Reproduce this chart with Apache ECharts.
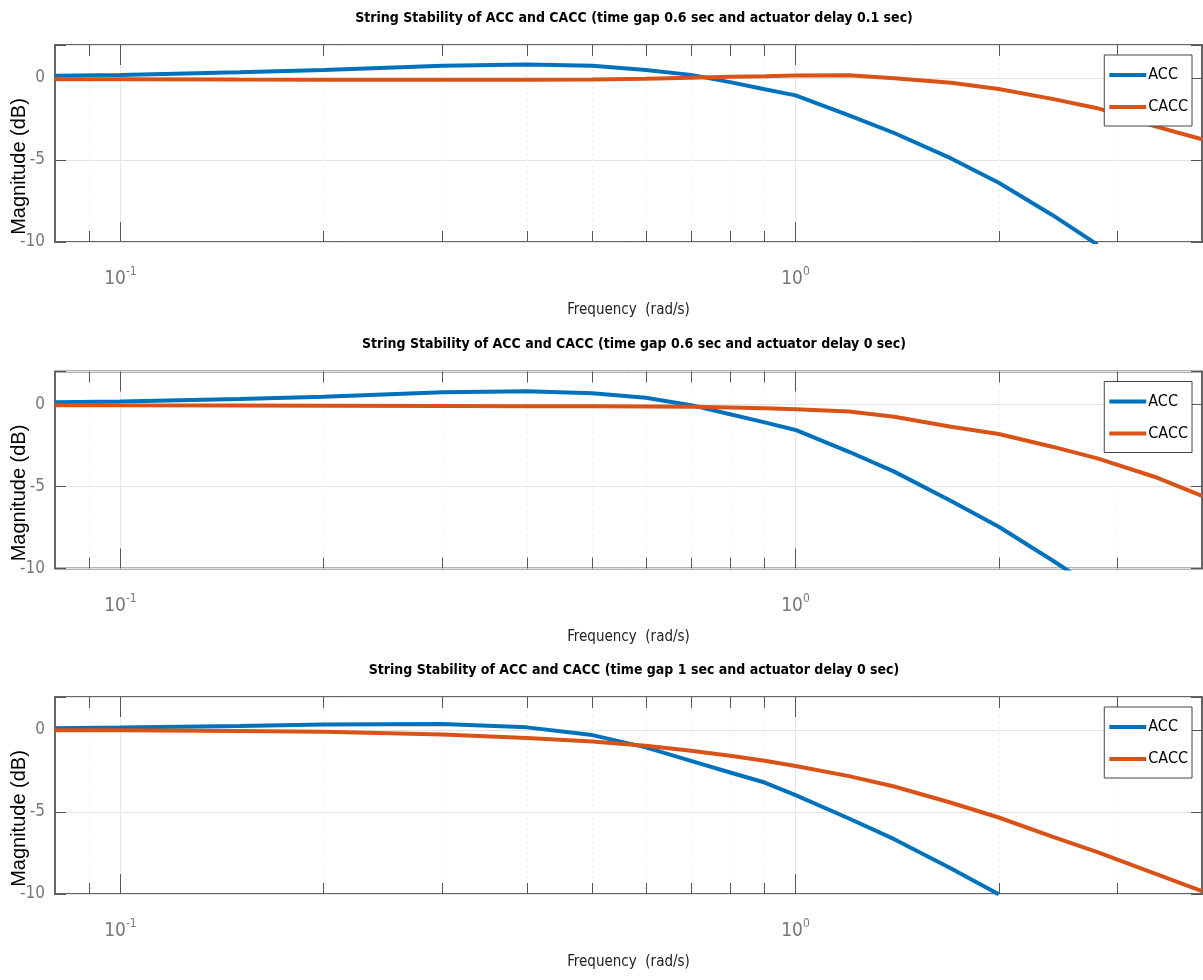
<!DOCTYPE html>
<html>
<head>
<meta charset="utf-8">
<script src="https://cdn.jsdelivr.net/npm/echarts@6/dist/echarts.min.js"></script>
<style>
    html, body { margin: 0; padding: 0; background: #fff; }
    #chart { width: 1203px; height: 980px; }
</style>
</head>
<body>
<div id="chart"></div>
<script>
    // frequency grid (rad/s) shared by the three plots
    const freq = [0.08, 0.1, 0.15, 0.2, 0.3, 0.4, 0.5, 0.6, 0.7, 0.8, 0.9, 1.0, 1.2, 1.4, 1.7, 2.0, 2.4, 2.8, 3.4, 4.0]

    // magnitude (dB); null = off the plot
    const acc1  = [0.12, 0.18, 0.34, 0.48, 0.73, 0.81, 0.73, 0.48, 0.18, -0.26, -0.70, -1.07, -2.28, -3.36, -4.91, -6.39, -8.35, -10.16, null, null]
    const cacc1 = [-0.08, -0.08, -0.10, -0.11, -0.12, -0.12, -0.10, -0.05, 0.00, 0.06, 0.10, 0.14, 0.16, -0.03, -0.30, -0.68, -1.28, -1.85, -2.94, -3.74]

    const acc2  = [0.12, 0.17, 0.32, 0.46, 0.74, 0.80, 0.68, 0.40, -0.05, -0.60, -1.10, -1.56, -2.89, -4.10, -5.89, -7.46, -9.50, -11.30, null, null]
    const cacc2 = [-0.05, -0.06, -0.07, -0.08, -0.10, -0.11, -0.12, -0.13, -0.15, -0.19, -0.24, -0.30, -0.44, -0.76, -1.37, -1.81, -2.58, -3.29, -4.41, -5.57]

    const acc3  = [0.10, 0.14, 0.24, 0.32, 0.35, 0.15, -0.32, -1.07, -1.89, -2.60, -3.21, -3.98, -5.40, -6.66, -8.45, -10.02, null, null, null, null]
    const cacc3 = [-0.02, -0.03, -0.07, -0.12, -0.28, -0.50, -0.71, -0.97, -1.28, -1.58, -1.88, -2.20, -2.82, -3.45, -4.44, -5.34, -6.50, -7.45, -8.74, -9.82]

    const titles = [
        'String Stability of ACC and CACC (time gap 0.6 sec and actuator delay 0.1 sec)',
        'String Stability of ACC and CACC (time gap 0.6 sec and actuator delay 0 sec)',
        'String Stability of ACC and CACC (time gap 1 sec and actuator delay 0 sec)'
    ]
    const panels = [[acc1, cacc1], [acc2, cacc2], [acc3, cacc3]]

    const xMin = 0.08, xMax = 4
    const majorTicks = [0.1, 1]
    const minorTicks = [0.09, 0.2, 0.3, 0.4, 0.5, 0.6, 0.7, 0.8, 0.9, 2, 3]

    const gridTops = [45, 371.5, 697]
    const gridH = 197
    const narrow = "'Liberation Sans Narrow', 'DejaVu Sans Condensed', 'Liberation Sans', sans-serif"
    const blue = '#0072BD', orange = '#D95319'
    const lg = v => Math.log10(v)

    let grid = [], xAxis = [], yAxis = [], series = [], legend = [], title = []

    panels.forEach((p, i) => {
        let top = gridTops[i]
        grid.push({
            left: 55, right: 1, top: top, height: gridH,
            show: true, borderColor: '#666', borderWidth: 2,
            outerBoundsMode: 'none'
        })
        title.push({
            text: titles[i], left: 629, top: top - 39, textAlign: 'center',
            textStyle: {fontFamily: narrow, fontSize: 14, fontWeight: 'bold', color: '#000'}
        })

        let base = {
            type: 'value', gridIndex: i, min: lg(xMin), max: lg(xMax),
            axisLine: {show: false, onZero: false}, axisLabel: {show: false}, splitLine: {show: false}
        }
        // bottom, major ticks + labels
        xAxis.push(Object.assign({}, base, {
            position: 'bottom',
            name: 'Frequency  (rad/s)', nameLocation: 'middle', nameGap: 61, nameMoveOverlap: false,
            nameTextStyle: {fontFamily: narrow, fontSize: 15, color: '#222'},
            axisTick: {inside: true, length: 20, customValues: majorTicks.map(lg), lineStyle: {color: '#555', width: 1}},
            axisLabel: {
                show: true, customValues: majorTicks.map(lg), margin: 24, color: '#777',
                formatter: v => '{b|10}{s|' + Math.round(v) + '}',
                rich: {
                    b: {fontFamily: narrow, fontSize: 19, color: '#777', verticalAlign: 'bottom'},
                    s: {fontFamily: narrow, fontSize: 12, color: '#777', verticalAlign: 'bottom', padding: [0, 0, 11, 0]}
                }
            },
            splitLine: {show: true, lineStyle: {color: '#e6e6e6', width: 1}}
        }))
        // bottom, minor ticks
        xAxis.push(Object.assign({}, base, {
            position: 'bottom',
            axisTick: {inside: true, length: 11, customValues: minorTicks.map(lg), lineStyle: {color: '#555', width: 1}},
            splitLine: {show: true, lineStyle: {color: '#ebebeb', width: 1, type: [2, 4]}}
        }))
        // top mirror ticks
        xAxis.push(Object.assign({}, base, {
            position: 'top',
            axisTick: {inside: true, length: 20, customValues: majorTicks.map(lg), lineStyle: {color: '#555', width: 1}}
        }))
        xAxis.push(Object.assign({}, base, {
            position: 'top',
            axisTick: {inside: true, length: 11, customValues: minorTicks.map(lg), lineStyle: {color: '#555', width: 1}}
        }))

        let ybase = {type: 'value', gridIndex: i, min: -10, max: 2, interval: 5, axisLine: {show: false, onZero: false}}
        yAxis.push(Object.assign({}, ybase, {
            position: 'left',
            name: 'Magnitude (dB)', nameLocation: 'middle', nameGap: 26, nameMoveOverlap: false,
            nameTextStyle: {fontFamily: "'Liberation Sans', Arial, sans-serif", fontSize: 20, color: '#000', padding: [0, 46, 0, 0]},
            axisTick: {inside: true, length: 11, lineStyle: {color: '#555'}},
            axisLabel: {
                margin: 10, fontFamily: narrow, fontSize: 17, color: '#777',
                formatter: v => (v > 0 ? '' : String(v))
            },
            splitLine: {show: true, lineStyle: {color: '#e3e3e3', width: 1}}
        }))
        yAxis.push(Object.assign({}, ybase, {
            position: 'right',
            axisTick: {inside: true, length: 11, lineStyle: {color: '#555'}},
            axisLabel: {show: false}, splitLine: {show: false}
        }))

        let mk = (name, vals, color) => ({
            name: name, type: 'line', xAxisIndex: i * 4, yAxisIndex: i * 2,
            showSymbol: false, symbol: 'none', clip: true, animation: false,
            lineStyle: {color: color, width: 4}, itemStyle: {color: color},
            data: freq.map((f, k) => vals[k] == null ? null : [lg(f), vals[k]]).filter(d => d)
        })
        series.push(mk('ACC', p[0], blue), mk('CACC', p[1], orange))

        legend.push({
            data: ['ACC', 'CACC'], orient: 'vertical', right: 11, top: top + 10,
            icon: 'rect', itemWidth: 37, itemHeight: 4, itemGap: 12,
            padding: [10, 4, 9, 5], backgroundColor: '#fff',
            borderColor: '#444', borderWidth: 1, selectedMode: false,
            textStyle: {fontFamily: narrow, fontSize: 16, lineHeight: 20, color: '#000', padding: [0, 0, 0, -3]}
        })
    })

    const chart = echarts.init(document.getElementById('chart'))
    chart.setOption({
        animation: false,
        title: title,
        grid: grid,
        xAxis: xAxis,
        yAxis: yAxis,
        legend: legend,
        series: series
    })
</script>
</body>
</html>
